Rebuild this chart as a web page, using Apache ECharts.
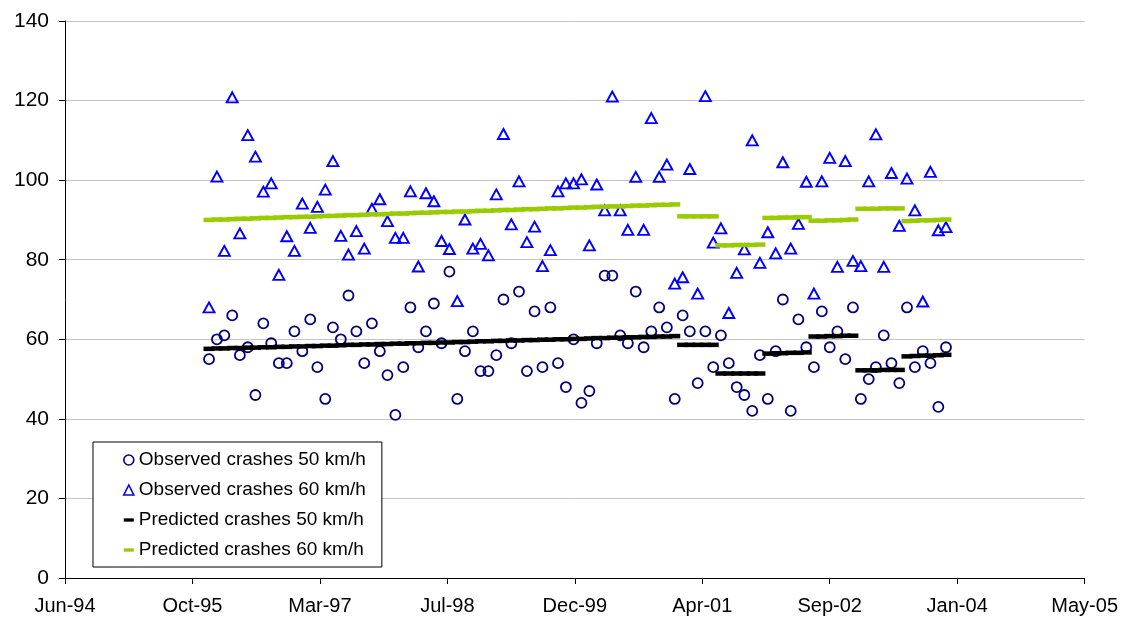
<!DOCTYPE html>
<html>
<head>
<meta charset="utf-8">
<script src="https://cdn.jsdelivr.net/npm/echarts@6/dist/echarts.min.js"></script>
<style>
  html, body { margin: 0; padding: 0; background: #fff; }
  #chart { width: 1121px; height: 618px; }
</style>
</head>
<body>
<div id="chart"></div>
<script>
// ---- DATA ----
const months = [
  '1996-01','1996-02','1996-03','1996-04','1996-05','1996-06','1996-07','1996-08','1996-09','1996-10','1996-11','1996-12',
  '1997-01','1997-02','1997-03','1997-04','1997-05','1997-06','1997-07','1997-08','1997-09','1997-10','1997-11','1997-12',
  '1998-01','1998-02','1998-03','1998-04','1998-05','1998-06','1998-07','1998-08','1998-09','1998-10','1998-11','1998-12',
  '1999-01','1999-02','1999-03','1999-04','1999-05','1999-06','1999-07','1999-08','1999-09','1999-10','1999-11','1999-12',
  '2000-01','2000-02','2000-03','2000-04','2000-05','2000-06','2000-07','2000-08','2000-09','2000-10','2000-11','2000-12',
  '2001-01','2001-02','2001-03','2001-04','2001-05','2001-06','2001-07','2001-08','2001-09','2001-10','2001-11','2001-12',
  '2002-01','2002-02','2002-03','2002-04','2002-05','2002-06','2002-07','2002-08','2002-09','2002-10','2002-11','2002-12',
  '2003-01','2003-02','2003-03','2003-04','2003-05','2003-06','2003-07','2003-08','2003-09','2003-10','2003-11','2003-12'
];

const observed50 = [
  55, 60, 61, 66, 56, 58, 46, 64, 59, 54, 54, 62,
  57, 65, 53, 45, 63, 60, 71, 62, 54, 64, 57, 51,
  41, 53, 68, 58, 62, 69, 59, 77, 45, 57, 62, 52,
  52, 56, 70, 59, 72, 52, 67, 53, 68, 54, 48, 60,
  44, 47, 59, 76, 76, 61, 59, 72, 58, 62, 68, 63,
  45, 66, 62, 49, 62, 53, 61, 54, 48, 46, 42, 56,
  45, 57, 70, 42, 65, 58, 53, 67, 58, 62, 55, 68,
  45, 50, 53, 61, 54, 49, 68, 53, 57, 54, 43, 58
];

const observed60 = [
  68.0, 100.9, 82.2, 120.8, 86.6, 111.3, 105.9, 97.1, 99.2, 76.2, 85.9, 82.2,
  94.1, 88.0, 93.3, 97.6, 104.8, 86.0, 81.3, 87.2, 82.8, 92.8, 95.2, 89.7,
  85.5, 85.5, 97.2, 78.3, 96.7, 94.7, 84.7, 82.7, 69.6, 90.1, 82.8, 84.0,
  81.1, 96.4, 111.6, 88.9, 99.7, 84.4, 88.3, 78.4, 82.4, 97.2, 99.2, 99.2,
  100.2, 83.6, 98.9, 92.4, 121.0, 92.4, 87.5, 100.8, 87.5, 115.6, 100.8, 103.9,
  74.0, 75.6, 102.8, 71.5, 121.1, 84.3, 87.9, 66.6, 76.7, 82.6, 110.0, 79.2,
  86.9, 81.6, 104.5, 82.8, 89.0, 99.6, 71.5, 99.7, 105.6, 78.2, 104.8, 79.7,
  78.4, 99.7, 111.5, 78.2, 101.8, 88.5, 100.4, 92.4, 69.5, 102.1, 87.4, 88.2
];

const predicted50 = [
  57.6, 57.7, 57.7, 57.8, 57.8, 57.9, 57.9, 58.0, 58.0, 58.1, 58.1, 58.2,
  58.2, 58.3, 58.3, 58.4, 58.4, 58.5, 58.6, 58.6, 58.7, 58.7, 58.8, 58.8,
  58.9, 58.9, 59.0, 59.0, 59.1, 59.1, 59.2, 59.2, 59.3, 59.3, 59.4, 59.5,
  59.5, 59.6, 59.6, 59.7, 59.7, 59.8, 59.8, 59.9, 59.9, 60.0, 60.0, 60.1,
  60.1, 60.2, 60.3, 60.3, 60.4, 60.4, 60.5, 60.5, 60.6, 60.6, 60.7, 60.7,
  60.8, 58.6, 58.6, 58.6, 58.6, 58.6, 51.4, 51.4, 51.4, 51.4, 51.4, 51.4,
  56.4, 56.5, 56.5, 56.6, 56.6, 56.7, 60.7, 60.7, 60.8, 60.8, 60.9, 60.9,
  52.2, 52.2, 52.2, 52.3, 52.3, 52.3, 55.7, 55.8, 55.9, 55.9, 56.0, 56.1
];

const predicted60 = [
  90.0, 90.1, 90.1, 90.2, 90.3, 90.3, 90.4, 90.5, 90.5, 90.6, 90.7, 90.7,
  90.8, 90.8, 90.9, 91.0, 91.0, 91.1, 91.2, 91.2, 91.3, 91.4, 91.4, 91.5,
  91.6, 91.6, 91.7, 91.8, 91.8, 91.9, 92.0, 92.0, 92.1, 92.1, 92.2, 92.3,
  92.3, 92.4, 92.5, 92.5, 92.6, 92.7, 92.7, 92.8, 92.9, 92.9, 93.0, 93.1,
  93.1, 93.2, 93.3, 93.3, 93.4, 93.4, 93.5, 93.6, 93.6, 93.7, 93.8, 93.8,
  93.9, 90.9, 90.9, 90.9, 90.9, 90.9, 83.6, 83.6, 83.7, 83.7, 83.7, 83.8,
  90.5, 90.5, 90.6, 90.6, 90.7, 90.7, 89.8, 89.8, 89.9, 89.9, 90.0, 90.1,
  92.8, 92.8, 92.8, 92.9, 92.9, 92.9, 89.7, 89.8, 89.9, 89.9, 90.0, 90.1
];

const xTickLabels = ['Jun-94', 'Oct-95', 'Mar-97', 'Jul-98', 'Dec-99', 'Apr-01', 'Sep-02', 'Jan-04', 'May-05'];
const seriesNames = ['Observed crashes 50 km/h', 'Observed crashes 60 km/h', 'Predicted crashes 50 km/h', 'Predicted crashes 60 km/h'];

// ---- helpers ----
// Excel-style day serial (day 0 = 1899-12-30)
function serial(ym) {
  const [y, m] = ym.split('-').map(Number);
  return (Date.UTC(y, m - 1, 1) - Date.UTC(1899, 11, 30)) / 86400000;
}
const xMin = 34500, xMax = 38500, xStep = 500;
const pair = (vals) => months.map((m, i) => [serial(m), vals[i]]);

const FONT = "'Liberation Sans', Arial, Helvetica, sans-serif";
const chart = echarts.init(document.getElementById('chart'), null, { renderer: 'canvas' });

const dashIcon = 'path://M0,0H9V3H0Z';

chart.setOption({
  animation: false,
  backgroundColor: '#ffffff',
  textStyle: { fontFamily: FONT },
  grid: { left: 65, right: 36, top: 21, bottom: 40, containLabel: false },
  xAxis: {
    type: 'value',
    min: xMin, max: xMax, interval: xStep,
    axisLine: { show: true, lineStyle: { color: '#000', width: 1 } },
    axisTick: { show: true, inside: false, length: 6, lineStyle: { color: '#000' } },
    splitLine: { show: false },
    axisLabel: {
      margin: 18,
      color: '#000',
      fontSize: 20,
      fontFamily: FONT,
      formatter: (v) => xTickLabels[Math.round((v - xMin) / xStep)] || ''
    }
  },
  yAxis: {
    type: 'value',
    min: 0, max: 140, interval: 20,
    axisLine: { show: true, lineStyle: { color: '#000', width: 1 } },
    axisTick: { show: true, inside: false, length: 6, lineStyle: { color: '#000' } },
    splitLine: { show: true, lineStyle: { color: '#c4c4c4', width: 1 } },
    axisLabel: { margin: 16, color: '#000', fontSize: 21, fontFamily: FONT }
  },
  legend: {
    show: true,
    orient: 'vertical',
    left: 93, top: 442,
    padding: [8, 16, 7, 30],
    itemWidth: 10, itemHeight: 10,
    itemGap: 10,
    backgroundColor: '#fff',
    borderColor: '#000',
    borderWidth: 1,
    borderRadius: 0,
    textStyle: { color: '#000', fontSize: 19, fontFamily: FONT, lineHeight: 20 },
    data: [
      { name: seriesNames[0], icon: 'circle', itemStyle: { color: 'transparent', borderColor: '#000080', borderWidth: 1.6 } },
      { name: seriesNames[1], icon: 'triangle', itemStyle: { color: 'transparent', borderColor: '#0000ff', borderWidth: 1.6 } },
      { name: seriesNames[2], icon: dashIcon, itemStyle: { color: '#000', borderWidth: 0 } },
      { name: seriesNames[3], icon: dashIcon, itemStyle: { color: '#99cc00', borderWidth: 0 } }
    ]
  },
  series: [
    {
      name: seriesNames[0], type: 'scatter',
      symbol: 'circle', symbolSize: 10,
      itemStyle: { color: 'transparent', borderColor: '#000080', borderWidth: 1.8, opacity: 1 },
      data: pair(observed50), z: 2
    },
    {
      name: seriesNames[1], type: 'scatter',
      symbol: 'triangle', symbolSize: [11, 10],
      itemStyle: { color: 'transparent', borderColor: '#0000ff', borderWidth: 1.9, opacity: 1 },
      data: pair(observed60), z: 3
    },
    {
      name: seriesNames[2], type: 'scatter',
      symbol: 'rect', symbolSize: [11, 4.5],
      itemStyle: { color: '#000000', opacity: 1 },
      data: pair(predicted50), z: 4
    },
    {
      name: seriesNames[3], type: 'scatter',
      symbol: 'rect', symbolSize: [11, 4.5],
      itemStyle: { color: '#99cc00', opacity: 1 },
      data: pair(predicted60), z: 5
    }
  ]
});
</script>
</body>
</html>
